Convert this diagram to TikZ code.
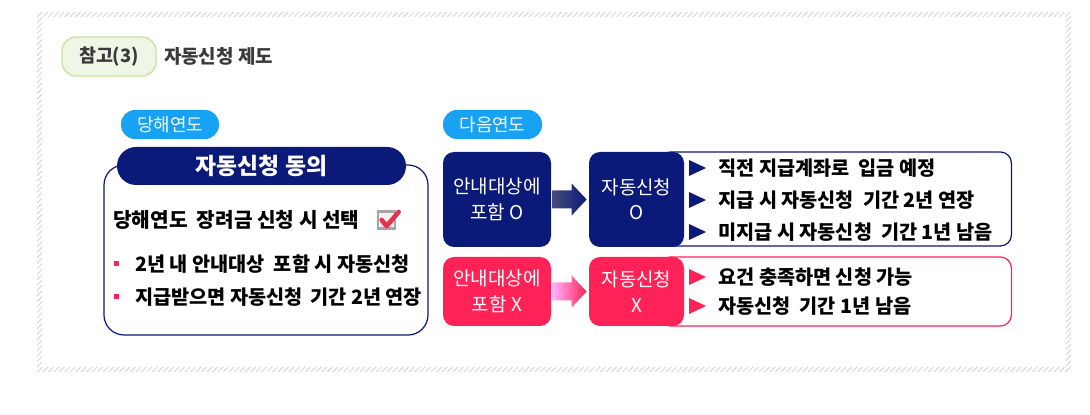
\documentclass[tikz,border=0pt]{standalone}
\usepackage{fontspec}
\setmainfont{Noto Sans CJK KR}
\usepackage{tikz}
\usetikzlibrary{positioning,calc,patterns.meta}

\definecolor{navy}{HTML}{0B1A78}
\definecolor{hotpink}{HTML}{FF2256}
\definecolor{skyblue}{HTML}{17A2F3}
\definecolor{pillgreen}{HTML}{EFF6E6}
\definecolor{pillgreenb}{HTML}{C6E59D}
\definecolor{titlegray}{HTML}{3A3A3A}
\definecolor{hatchgray}{HTML}{CFCFCF}
\definecolor{checkred}{HTML}{E8304A}
\def\pxu{0.02cm}

\begin{document}
\begin{tikzpicture}[
    x=0.02cm, y=-0.02cm, font=\bfseries\fontsize{11.2}{14}\selectfont,
    pill/.style={rectangle, rounded corners=14*\pxu, inner sep=0pt, text=white},
    stepbox/.style={rectangle, rounded corners=11*\pxu, inner sep=0pt, align=center,
        text=white, font=\fontsize{10.8}{14.5}\selectfont},
    listbox/.style={rectangle, rounded corners=11*\pxu, line width=0.7pt, fill=white,
        anchor=east, minimum width=352*\pxu},
    item/.style={anchor=west, inner sep=0pt}
]
    \useasboundingbox (0,0) rectangle (1090,415);
    \fill[pattern={Lines[angle=45,distance=2.2pt,line width=0.45pt]}, pattern color=hatchgray,
        even odd rule] (37,12) rectangle (1071,372) (42,17) rectangle (1066,367);

    % heading
    \node[pill, fill=pillgreen, draw=pillgreenb, line width=0.8pt, text=titlegray,
        minimum width=94*\pxu, minimum height=39*\pxu,
        font=\bfseries\fontsize{10.5}{12}\selectfont] (ref) at (109,56.5) {참고(3)};
    \node[right=7*\pxu of ref, inner sep=0pt, text=titlegray,
        font=\bfseries\fontsize{10.8}{12}\selectfont] (title) {자동신청 제도};

    % this year
    \node[pill, fill=skyblue, minimum width=98*\pxu, minimum height=29*\pxu,
        font=\fontsize{10.2}{12}\selectfont] (thisyr) at (170,124.5) {당해연도};
    \node[draw=navy, line width=0.7pt, rounded corners=20*\pxu, minimum width=324*\pxu,
        minimum height=170*\pxu] (agree) at (266,250) {};
    \node[pill, fill=navy, rounded corners=19*\pxu, minimum width=289*\pxu,
        minimum height=38*\pxu, font=\bfseries\fontsize{13}{14}\selectfont] (agreehd) at (261.5,166) {자동신청 동의};
    \node[item, font=\bfseries\fontsize{11.5}{14}\selectfont] (sel) at (113,220) {당해연도~ 장려금 신청 시 선택};
    \node[draw=gray!70, fill=gray!10, line width=1.4pt, minimum size=17*\pxu, inner sep=0pt,
        right=17*\pxu of sel] (chk) {};
    \draw[checkred, line width=2.6pt, line cap=round, line join=round]
        ($(chk.center)+(-5,0)$) -- ++(5,6) -- ++(12,-14);
    \node[item] (b1) at (135,264) {2년 내 안내대상~ 포함 시 자동신청};
    \node[item] (b2) at (135,297) {지급받으면 자동신청\, 기간 2년 연장};
    \fill[hotpink] ($(b1.west)+(-21,-3)$) rectangle ++(5,5);
    \fill[hotpink] ($(b2.west)+(-21,-3)$) rectangle ++(5,5);

    % next year
    \node[pill, fill=skyblue, minimum width=99*\pxu, minimum height=29*\pxu,
        font=\fontsize{10.2}{12}\selectfont] (nextyr) at (492.5,124.5) {다음연도};

    \node[listbox, draw=navy, minimum height=94*\pxu] (olist) at (1012,199) {};
    \node[stepbox, fill=navy, minimum width=108*\pxu, minimum height=95*\pxu] (ino) at (497,199.5) {안내대상에\\포함 O};
    \node[stepbox, fill=navy, minimum width=95*\pxu, minimum height=95*\pxu] (ao) at (636.5,199.5) {자동신청\\O};
    \shade[left color=navy!50!gray, right color=navy]
        ($(ino.east)+(1,-9)$) -- ($(ao.west)+(-17,-9)$) -- ($(ao.west)+(-17,-16)$)
        -- ($(ao.west)+(-2,0)$) -- ($(ao.west)+(-17,16)$) -- ($(ao.west)+(-17,9)$)
        -- ($(ino.east)+(1,9)$) -- cycle;
    \node[item] (o1) at (718,168) {직전 지급계좌로~ 입금 예정};
    \node[item] (o2) at (718,200) {지급 시 자동신청~ 기간 2년 연장};
    \node[item] (o3) at (718,232) {미지급 시 자동신청~ 기간 1년 남음};
    \fill[navy] ($(o1.west)+(-29,-8)$) -- ++(17,8) -- ++(-17,8) -- cycle;
    \fill[navy] ($(o2.west)+(-29,-8)$) -- ++(17,8) -- ++(-17,8) -- cycle;
    \fill[navy] ($(o3.west)+(-29,-8)$) -- ++(17,8) -- ++(-17,8) -- cycle;

    \node[listbox, draw=hotpink, minimum height=69*\pxu] (xlist) at (1012,291.5) {};
    \node[stepbox, fill=hotpink, minimum width=108*\pxu, minimum height=69*\pxu] (inx) at (497,291.5) {안내대상에\\포함 X};
    \node[stepbox, fill=hotpink, minimum width=95*\pxu, minimum height=69*\pxu] (ax) at (636.5,291.5) {자동신청\\X};
    \shade[left color=magenta!30, right color=hotpink]
        ($(inx.east)+(1,-9)$) -- ($(ax.west)+(-17,-9)$) -- ($(ax.west)+(-17,-16)$)
        -- ($(ax.west)+(-2,0)$) -- ($(ax.west)+(-17,16)$) -- ($(ax.west)+(-17,9)$)
        -- ($(inx.east)+(1,9)$) -- cycle;
    \node[item] (x1) at (718,277) {요건 충족하면 신청 가능};
    \node[item] (x2) at (718,306) {자동신청~ 기간 1년 남음};
    \fill[hotpink] ($(x1.west)+(-29,-8)$) -- ++(17,8) -- ++(-17,8) -- cycle;
    \fill[hotpink] ($(x2.west)+(-29,-8)$) -- ++(17,8) -- ++(-17,8) -- cycle;
\end{tikzpicture}
\end{document}
